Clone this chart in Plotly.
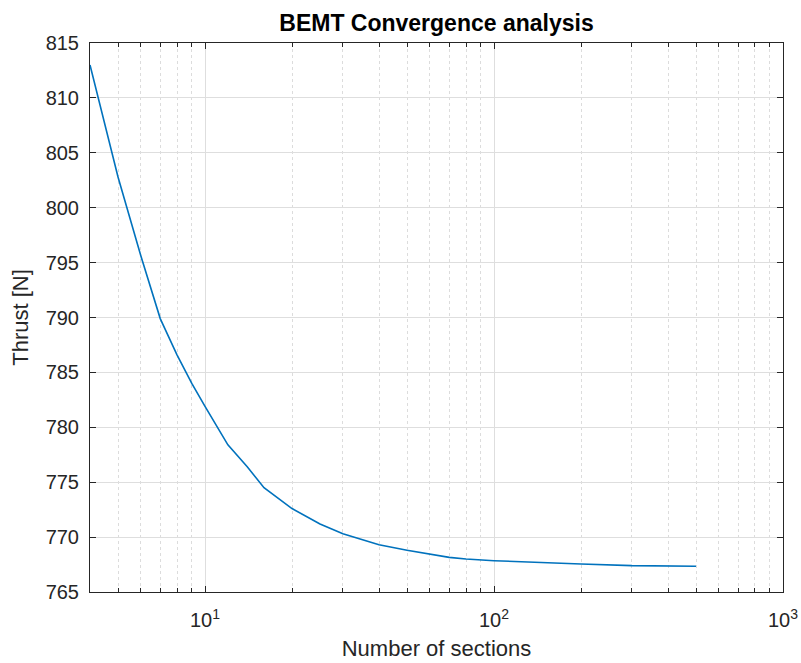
import plotly.graph_objects as go

sections = [4, 5, 6, 7, 8, 9, 10, 12, 14, 16, 20, 25, 30, 40, 50, 60, 70, 80, 100, 200, 300, 500]
thrust = [813.0, 802.8, 795.6, 789.9, 786.6, 784.0, 781.9, 778.4, 776.4, 774.5, 772.6, 771.2, 770.3,
          769.3, 768.8, 768.45, 768.15, 768.0, 767.85, 767.55, 767.4, 767.35]

x_tickvals = [10, 100, 1000]
x_ticktext = ["10<sup>1</sup>", "10<sup>2</sup>", "10<sup>3</sup>"]
x_minorvals = [4, 5, 6, 7, 8, 9, 20, 30, 40, 50, 60, 70, 80, 90,
               200, 300, 400, 500, 600, 700, 800, 900]
y_tickvals = [765, 770, 775, 780, 785, 790, 795, 800, 805, 810, 815]

FONT = "Liberation Sans, Arial, Helvetica"
TXT = "#262626"

fig = go.Figure()
fig.add_trace(go.Scatter(x=sections, y=thrust, mode="lines",
                         line=dict(color="#0072BD", width=1.6), showlegend=False))

axis_common = dict(
    showline=True, linecolor=TXT, linewidth=1, mirror="ticks",
    ticks="inside", ticklen=6, tickcolor=TXT,
    showgrid=True, gridcolor="#dedede", gridwidth=1,
    zeroline=False, automargin=False,
    tickfont=dict(family=FONT, size=20, color=TXT),
)

fig.update_xaxes(type="log", range=[0.60206, 3], tickvals=x_tickvals, ticktext=x_ticktext,
                 ticklabelstandoff=10,
                 title=dict(text="Number of sections", font=dict(family=FONT, size=22, color=TXT), standoff=10),
                 minor=dict(ticks="inside", ticklen=4, tickcolor=TXT, showgrid=True,
                            gridcolor="#dcdcdc", griddash="dot", gridwidth=1,
                            tickvals=x_minorvals),
                 **axis_common)
fig.update_yaxes(range=[765, 815], tickvals=y_tickvals, ticklabelstandoff=6,
                 title=dict(text="Thrust [N]", font=dict(family=FONT, size=22, color=TXT), standoff=10),
                 **axis_common)

fig.update_layout(
    width=801, height=663,
    margin=dict(l=90, r=18, t=43, b=71),
    paper_bgcolor="white", plot_bgcolor="white",
    title=dict(text="<b>BEMT Convergence analysis</b>", x=(90 + (801 - 90 - 18) / 2) / 801, xref="container",
               xanchor="center", y=1 - 23 / 663, yref="container", yanchor="middle",
               font=dict(family=FONT, size=23, color="black")),
)

fig.write_html("out.html")
